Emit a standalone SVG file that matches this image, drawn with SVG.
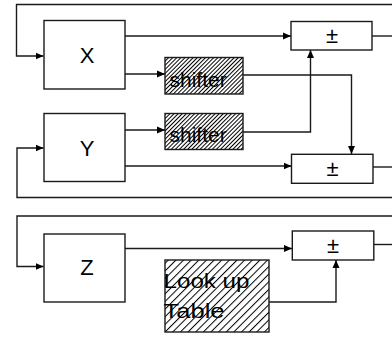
<svg xmlns="http://www.w3.org/2000/svg" width="392" height="339" viewBox="0 0 392 339">
  <defs>
    <marker id="arrow" viewBox="0 0 8 8" refX="8" refY="4" markerWidth="8" markerHeight="8" markerUnits="userSpaceOnUse" orient="auto">
      <path d="M0,0.5 L8,4 L0,7.5 Z" fill="#000"/>
    </marker>
    <pattern id="hatchFine" width="2.9" height="2.9" patternUnits="userSpaceOnUse" patternTransform="rotate(45)">
      <line x1="0.5" y1="0" x2="0.5" y2="2.9" stroke="#000" stroke-width="1"/>
    </pattern>
    <pattern id="hatchWide" width="5.4" height="5.4" patternUnits="userSpaceOnUse" patternTransform="rotate(45)">
      <line x1="0.5" y1="0" x2="0.5" y2="5.4" stroke="#000" stroke-width="1"/>
    </pattern>
  </defs>
  <style>
    .box { fill: #fff; stroke: #1a1a1a; stroke-width: 1.4; }
    .fine { fill: url(#hatchFine); stroke: #1a1a1a; stroke-width: 1.4; }
    .wide { fill: url(#hatchWide); stroke: #1a1a1a; stroke-width: 1.4; }
    .wire { fill: none; stroke: #1a1a1a; stroke-width: 1.4; }
    .arr { marker-end: url(#arrow); }
    .lbl { font-family: "Liberation Sans", Arial, sans-serif; fill: #000; }
    .reg { font-size: 22px; text-anchor: middle; }
    .op { font-size: 22px; text-anchor: middle; }
    .tag { font-size: 21px; }
  </style>

  <g id="connectors">
    <polyline class="wire arr" points="392,4.5 16.5,4.5 16.5,56 43.5,56"/>
    <line class="wire arr" x1="125" y1="36" x2="291" y2="36"/>
    <line class="wire" x1="372" y1="36" x2="392" y2="36"/>
    <line class="wire arr" x1="125" y1="74" x2="165" y2="74"/>
    <polyline class="wire arr" points="243,75 351.5,75 351.5,154"/>
    <line class="wire arr" x1="125" y1="130" x2="165" y2="130"/>
    <polyline class="wire arr" points="243,132 310.5,132 310.5,50"/>
    <line class="wire arr" x1="125" y1="166" x2="291.5" y2="166"/>
    <line class="wire" x1="373" y1="167" x2="392" y2="167"/>
    <polyline class="wire arr" points="392,197.5 17,197.5 17,148 43.5,148"/>
    <polyline class="wire arr" points="392,216 17,216 17,266.5 43.5,266.5"/>
    <line class="wire arr" x1="125" y1="248.5" x2="292" y2="248.5"/>
    <line class="wire" x1="374" y1="244.5" x2="392" y2="244.5"/>
    <polyline class="wire arr" points="269,302 336,302 336,260"/>
  </g>

  <g id="regX">
    <rect class="box" x="44" y="20.5" width="81" height="68.5"/>
    <text class="lbl reg" x="87" y="62.5">X</text>
  </g>
  <g id="regY">
    <rect class="box" x="44" y="113.5" width="81" height="68"/>
    <text class="lbl reg" x="87" y="155.5">Y</text>
  </g>
  <g id="regZ">
    <rect class="box" x="44" y="234" width="81" height="68"/>
    <text class="lbl reg" x="87" y="275">Z</text>
  </g>

  <g id="shifter1">
    <rect class="fine" x="165" y="57.5" width="78" height="36.5"/>
    <text class="lbl tag" x="169.5" y="86.5">shifter</text>
  </g>
  <g id="shifter2">
    <rect class="fine" x="165" y="113.5" width="78" height="36"/>
    <text class="lbl tag" x="169.5" y="142">shifter</text>
  </g>
  <g id="lookupTable">
    <rect class="wide" x="165" y="260" width="104" height="72"/>
    <text class="lbl" font-size="21" x="163.5" y="288.3" textLength="86" lengthAdjust="spacingAndGlyphs">Look up</text>
    <text class="lbl" font-size="21" x="163.5" y="318.3" textLength="61" lengthAdjust="spacingAndGlyphs">Table</text>
  </g>

  <g id="addsub1">
    <rect class="box" x="291" y="21.5" width="81" height="28.5"/>
    <text class="lbl op" x="332" y="43">±</text>
  </g>
  <g id="addsub2">
    <rect class="box" x="291.5" y="154.3" width="81.5" height="29"/>
    <text class="lbl op" x="332.5" y="176">±</text>
  </g>
  <g id="addsub3">
    <rect class="box" x="292.3" y="231" width="81.5" height="29"/>
    <text class="lbl op" x="333" y="253">±</text>
  </g>
</svg>
